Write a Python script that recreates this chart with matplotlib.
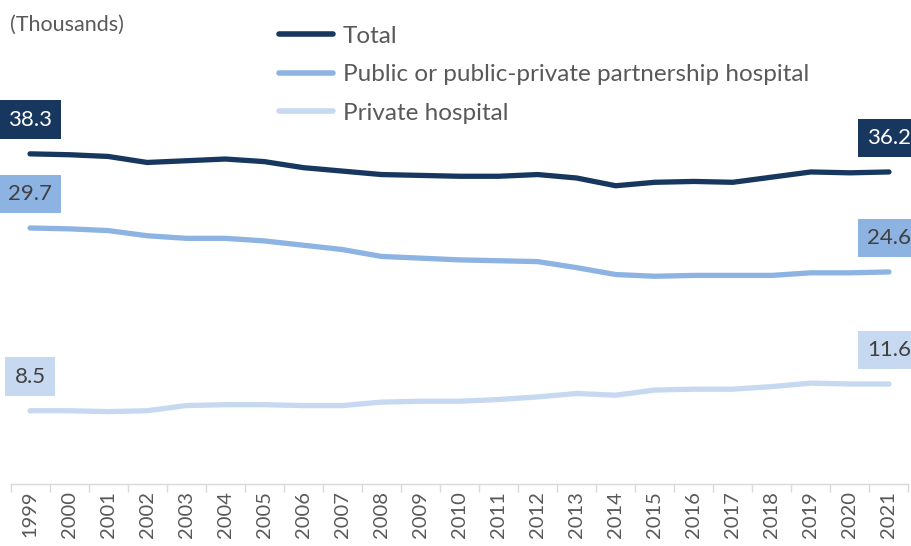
import matplotlib
matplotlib.use("Agg")
import matplotlib.pyplot as plt

# data (thousands)
years = [str(y) for y in range(1999, 2022)]
total = [38.3, 38.2, 38.0, 37.3, 37.5, 37.7, 37.4, 36.7, 36.3, 35.9, 35.8, 35.7,
         35.7, 35.9, 35.5, 34.6, 35.0, 35.1, 35.0, 35.6, 36.2, 36.1, 36.2]
public = [29.7, 29.6, 29.4, 28.8, 28.5, 28.5, 28.2, 27.7, 27.2, 26.4, 26.2, 26.0,
          25.9, 25.8, 25.1, 24.3, 24.1, 24.2, 24.2, 24.2, 24.5, 24.5, 24.6]
private = [8.5, 8.5, 8.4, 8.5, 9.1, 9.2, 9.2, 9.1, 9.1, 9.5, 9.6, 9.6,
           9.8, 10.1, 10.5, 10.3, 10.9, 11.0, 11.0, 11.3, 11.7, 11.6, 11.6]
series_names = ["Total", "Public or public-private partnership hospital", "Private hospital"]

# colours
c_total = "#17375e"
c_public = "#8db3e2"
c_private = "#c6d9f0"
grey = "#595959"

plt.rcParams["font.family"] = ["Lato", "DejaVu Sans"]

fig = plt.figure(figsize=(9.11, 5.46), dpi=100)
ax = fig.add_axes([10.5 / 911, 62 / 546, 898 / 911, 474 / 546])

x = list(range(len(years)))
series = [(total, c_total, "white"), (public, c_public, "#404040"), (private, c_private, "#404040")]
for (vals, col, tcol), name in zip(series, series_names):
    ax.plot(x, vals, color=col, lw=3.8, solid_capstyle="round", label=name)
    # first and last value labels in boxes
    for i in (0, len(vals) - 1):
        ax.annotate(f"{vals[i]:.1f}", (x[i], vals[i]), xytext=(0, 24.5),
                    textcoords="offset points", ha="center", va="center",
                    fontsize=16, color=tcol, annotation_clip=False,
                    bbox=dict(boxstyle="square,pad=0.42", fc=col, ec="none"))

ax.set_xlim(-0.5, len(years) - 0.5)
ax.set_ylim(0, 474 / 8.62)
ax.set_xticks([i - 0.5 for i in range(len(years) + 1)], minor=False)
ax.set_xticklabels([])
ax.set_xticks(x, minor=True)
ax.set_xticklabels(years, minor=True, rotation=90, fontsize=14.5, color=grey)
ax.tick_params(axis="x", which="major", length=6, width=1, color="#d9d9d9")
ax.tick_params(axis="x", which="minor", length=0, pad=5)
ax.set_yticks([])
for s in ("top", "right", "left"):
    ax.spines[s].set_visible(False)
ax.spines["bottom"].set_color("#d9d9d9")
ax.spines["bottom"].set_linewidth(1)

fig.text(10 / 911, 1 - 25 / 546, "(Thousands)", fontsize=15.5, color=grey, va="center", ha="left")

leg = ax.legend(loc="upper left", bbox_to_anchor=(0.275, 1.013), frameon=False,
                fontsize=17.5, handlelength=2.2, handletextpad=0.4, labelspacing=0.72)
for t in leg.get_texts():
    t.set_color(grey)
for h in leg.get_lines():
    h.set_linewidth(4)

fig.savefig("out.png", dpi=100)
